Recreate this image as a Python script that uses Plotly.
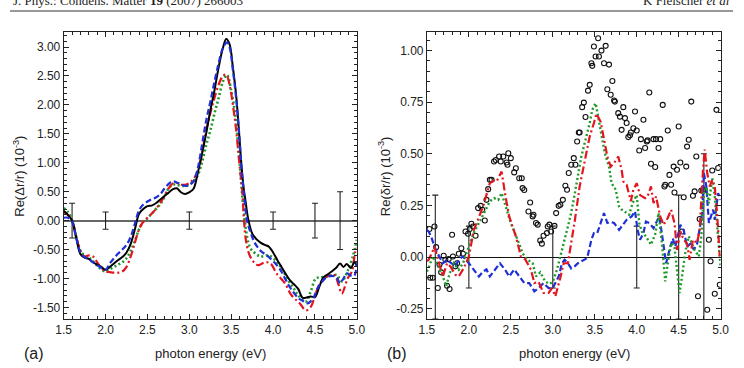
import plotly.graph_objects as go

# ---------------- panel (a) data ----------------
a_black_x = [1.50,1.55,1.60,1.65,1.70,1.75,1.80,1.85,1.90,1.95,2.00,2.05,2.10,2.15,2.20,2.25,2.30,2.35,2.40,2.45,2.50,2.55,2.60,2.65,2.70,2.75,2.80,2.85,2.90,2.95,3.00,3.05,3.10,3.15,3.20,3.25,3.30,3.35,3.40,3.44,3.48,3.52,3.56,3.60,3.62,3.65,3.67,3.70,3.75,3.80,3.85,3.90,3.95,4.00,4.05,4.10,4.15,4.20,4.25,4.30,4.35,4.40,4.45,4.50,4.55,4.60,4.65,4.70,4.75,4.80,4.84,4.88,4.93,4.97,5.00]
a_black_y = [0.17,0.10,0.00,-0.30,-0.58,-0.64,-0.66,-0.72,-0.76,-0.80,-0.85,-0.80,-0.74,-0.68,-0.63,-0.55,-0.40,-0.15,0.12,0.20,0.25,0.26,0.30,0.36,0.42,0.48,0.54,0.56,0.49,0.46,0.49,0.55,0.82,1.15,1.50,1.90,2.25,2.65,2.98,3.14,3.05,2.65,2.15,1.40,1.00,0.55,0.35,0.05,-0.22,-0.32,-0.38,-0.42,-0.45,-0.55,-0.68,-0.80,-0.92,-1.03,-1.10,-1.18,-1.33,-1.33,-1.31,-1.32,-1.15,-0.98,-0.93,-0.88,-0.82,-0.74,-0.80,-0.75,-0.82,-0.72,-0.78]

a_blue_x = [1.50,1.55,1.60,1.65,1.70,1.75,1.80,1.85,1.90,1.95,2.00,2.05,2.10,2.15,2.20,2.25,2.30,2.35,2.40,2.45,2.50,2.55,2.60,2.65,2.70,2.75,2.80,2.85,2.90,2.95,3.00,3.05,3.10,3.15,3.20,3.25,3.30,3.35,3.40,3.45,3.48,3.52,3.56,3.60,3.62,3.65,3.69,3.73,3.78,3.85,3.95,4.05,4.10,4.15,4.20,4.25,4.30,4.35,4.41,4.48,4.52,4.57,4.65,4.75,4.80,4.84,4.88,4.93,4.97,5.00]
a_blue_y = [0.05,0.05,-0.02,-0.30,-0.55,-0.63,-0.67,-0.72,-0.77,-0.82,-0.85,-0.74,-0.65,-0.57,-0.50,-0.42,-0.28,-0.05,0.18,0.28,0.33,0.37,0.40,0.45,0.55,0.63,0.68,0.66,0.63,0.60,0.62,0.68,0.90,1.30,1.72,2.05,2.40,2.72,2.98,3.08,3.00,2.60,2.10,1.40,0.95,0.50,0.00,-0.20,-0.38,-0.52,-0.63,-0.78,-0.88,-1.02,-1.15,-1.25,-1.34,-1.38,-1.43,-1.34,-1.20,-1.08,-0.97,-0.97,-1.08,-1.00,-0.91,-0.95,-0.95,-0.70]

a_green_x = [1.50,1.55,1.60,1.65,1.70,1.75,1.80,1.85,1.90,1.95,2.00,2.05,2.10,2.15,2.20,2.25,2.30,2.35,2.40,2.45,2.50,2.55,2.60,2.65,2.70,2.75,2.80,2.85,2.90,2.95,3.00,3.05,3.10,3.15,3.20,3.25,3.30,3.35,3.40,3.45,3.50,3.55,3.60,3.64,3.69,3.73,3.80,3.85,3.95,4.05,4.10,4.18,4.25,4.30,4.39,4.45,4.51,4.57,4.63,4.70,4.76,4.82,4.89,4.95,5.00]
a_green_y = [0.22,0.15,0.00,-0.28,-0.52,-0.60,-0.64,-0.70,-0.78,-0.84,-0.88,-0.84,-0.80,-0.76,-0.72,-0.65,-0.52,-0.35,-0.15,-0.02,0.04,0.12,0.20,0.28,0.40,0.55,0.62,0.62,0.60,0.60,0.62,0.68,0.78,1.00,1.30,1.55,1.85,2.12,2.40,2.52,2.25,1.80,1.00,0.30,-0.28,-0.48,-0.58,-0.62,-0.60,-0.72,-0.82,-1.03,-1.18,-1.29,-1.40,-1.22,-1.00,-0.98,-0.97,-0.95,-0.94,-1.05,-0.87,-0.63,-0.33]

a_red_x = [1.50,1.55,1.60,1.65,1.70,1.75,1.80,1.85,1.90,1.95,2.00,2.05,2.10,2.15,2.20,2.25,2.30,2.35,2.40,2.45,2.50,2.55,2.60,2.65,2.70,2.75,2.80,2.85,2.90,2.95,3.00,3.05,3.10,3.15,3.20,3.25,3.30,3.35,3.40,3.44,3.48,3.52,3.56,3.60,3.63,3.67,3.71,3.75,3.80,3.83,3.90,3.97,4.04,4.14,4.22,4.32,4.39,4.45,4.50,4.55,4.63,4.73,4.78,4.82,4.89,4.94,4.98,5.00]
a_red_y = [0.15,0.10,0.00,-0.28,-0.52,-0.62,-0.60,-0.62,-0.72,-0.82,-0.88,-0.89,-0.90,-0.90,-0.88,-0.80,-0.62,-0.38,-0.15,-0.02,0.05,0.12,0.20,0.30,0.42,0.55,0.64,0.65,0.62,0.62,0.65,0.72,0.85,1.15,1.55,1.85,2.12,2.35,2.50,2.52,2.35,2.00,1.55,0.95,0.55,-0.28,-0.56,-0.68,-0.76,-0.77,-0.72,-0.74,-0.91,-1.08,-1.29,-1.43,-1.55,-1.49,-1.30,-1.11,-0.97,-0.94,-1.10,-1.26,-1.00,-0.88,-0.55,-0.47]

err_x = [1.6, 2.0, 3.0, 4.0, 4.5, 4.8]
err_val = [0.3, 0.15, 0.15, 0.15, 0.3, 0.5]
err_zero = [0, 0, 0, 0, 0, 0]

# ---------------- panel (b) data ----------------
b_circ_x = [1.53,1.54,1.57,1.59,1.61,1.63,1.65,1.67,1.70,1.72,1.74,1.76,1.77,1.80,1.81,1.84,1.86,1.88,1.91,1.93,1.96,1.99,2.01,2.03,2.05,2.08,2.11,2.14,2.16,2.19,2.21,2.23,2.25,2.27,2.30,2.32,2.36,2.38,2.41,2.45,2.46,2.47,2.50,2.54,2.56,2.60,2.63,2.64,2.66,2.71,2.73,2.76,2.77,2.80,2.82,2.85,2.87,2.89,2.93,2.94,2.96,2.98,3.02,3.04,3.07,3.09,3.12,3.15,3.17,3.19,3.22,3.25,3.27,3.29,3.31,3.32,3.35,3.37,3.39,3.42,3.44,3.46,3.47,3.49,3.51,3.54,3.55,3.58,3.61,3.63,3.65,3.67,3.69,3.71,3.73,3.74,3.78,3.80,3.82,3.84,3.86,3.88,3.90,3.92,3.93,3.96,3.98,4.00,4.03,4.05,4.08,4.10,4.12,4.13,4.15,4.17,4.20,4.22,4.23,4.26,4.28,4.31,4.33,4.34,4.37,4.39,4.41,4.44,4.45,4.48,4.50,4.52,4.54,4.56,4.59,4.60,4.62,4.65,4.67,4.69,4.71,4.73,4.75,4.77,4.79,4.81,4.84,4.86,4.88,4.90,4.93,4.95,4.97,4.99]
b_circ_y = [0.136,-0.10,-0.10,0.148,0.048,-0.15,-0.037,-0.074,0.006,-0.013,-0.139,-0.01,-0.155,0.108,0.003,-0.045,-0.03,0.016,0.043,0.016,0.124,0.113,0.136,0.161,0.148,0.103,0.237,0.248,0.229,0.177,0.277,0.329,0.374,0.374,0.463,0.470,0.487,0.463,0.487,0.458,0.447,0.503,0.479,0.410,0.430,0.382,0.382,0.334,0.325,0.221,0.264,0.197,0.205,0.165,0.157,0.080,0.065,0.103,0.116,0.148,0.157,0.124,0.151,0.213,0.248,0.253,0.277,0.345,0.326,0.407,0.447,0.479,0.447,0.560,0.603,0.603,0.726,0.748,0.678,0.806,0.834,0.939,0.926,1.020,0.971,1.060,0.971,1.000,0.939,1.023,0.813,0.932,0.786,0.853,0.758,0.753,0.697,0.680,0.616,0.726,0.673,0.649,0.581,0.590,0.603,0.624,0.705,0.613,0.516,0.571,0.665,0.528,0.560,0.565,0.797,0.452,0.571,0.436,0.571,0.528,0.571,0.737,0.342,0.350,0.613,0.398,0.350,0.438,0.313,0.423,0.632,0.458,0.124,0.290,0.438,0.535,0.568,0.753,0.297,0.318,0.487,-0.190,0.184,0.322,0.322,0.326,-0.255,0.084,-0.020,0.419,-0.178,0.713,0.431,-0.134]

b_blue_x = [1.50,1.52,1.55,1.59,1.63,1.69,1.74,1.80,1.84,1.88,1.93,2.00,2.06,2.12,2.17,2.21,2.25,2.31,2.37,2.43,2.48,2.54,2.60,2.66,2.72,2.78,2.83,2.89,2.95,3.00,3.07,3.11,3.14,3.18,3.22,3.26,3.30,3.35,3.41,3.46,3.49,3.53,3.57,3.61,3.65,3.69,3.73,3.79,3.82,3.88,3.94,3.98,4.01,4.04,4.08,4.11,4.15,4.20,4.23,4.27,4.31,4.35,4.39,4.43,4.46,4.52,4.56,4.60,4.64,4.68,4.72,4.78,4.80,4.83,4.86,4.91,4.93,4.97,5.00]
b_blue_y = [0.13,0.124,0.10,0.05,0.016,-0.03,-0.013,-0.03,-0.045,-0.013,0.003,-0.03,-0.061,-0.094,-0.07,-0.06,-0.094,-0.06,-0.03,-0.06,-0.094,-0.06,-0.094,-0.126,-0.126,-0.166,-0.15,-0.126,-0.15,-0.15,-0.094,-0.03,-0.013,-0.03,-0.055,-0.045,-0.03,-0.02,-0.005,0.084,0.116,0.116,0.165,0.213,0.165,0.17,0.165,0.132,0.148,0.18,0.197,0.221,0.132,0.084,0.116,0.172,0.165,0.14,0.165,0.197,0.084,-0.03,0.035,0.09,0.05,0.156,0.13,0.05,0.065,0.035,0.065,0.213,0.407,0.342,0.165,0.23,0.18,0.31,0.277]

b_green_x = [1.50,1.52,1.57,1.62,1.69,1.73,1.77,1.82,1.88,1.93,2.00,2.06,2.14,2.20,2.25,2.30,2.35,2.39,2.44,2.50,2.58,2.64,2.69,2.76,2.80,2.85,2.91,2.96,3.00,3.05,3.09,3.13,3.17,3.21,3.25,3.30,3.34,3.39,3.44,3.47,3.51,3.54,3.58,3.62,3.67,3.70,3.75,3.79,3.82,3.86,3.91,3.95,4.00,4.03,4.06,4.11,4.17,4.22,4.26,4.30,4.34,4.37,4.41,4.45,4.48,4.51,4.54,4.58,4.62,4.65,4.69,4.74,4.77,4.80,4.83,4.86,4.90,4.93,4.96,5.00]
b_green_y = [-0.07,-0.053,0.003,-0.03,-0.094,-0.142,-0.08,-0.03,-0.061,-0.03,0.05,0.12,0.18,0.23,0.27,0.285,0.277,0.31,0.245,0.165,0.084,0.019,-0.01,-0.03,-0.094,-0.074,-0.118,-0.13,-0.12,-0.061,0.003,0.068,0.132,0.197,0.28,0.39,0.487,0.568,0.649,0.713,0.745,0.68,0.584,0.503,0.438,0.358,0.326,0.245,0.23,0.22,0.205,0.261,0.30,0.165,0.124,0.10,0.06,0.11,0.213,0.068,-0.118,-0.03,0.068,0.05,-0.06,-0.174,-0.094,0.027,0.10,0.068,0.035,0.003,0.10,0.31,0.34,0.26,0.382,0.293,0.132,-0.05]

b_red_x = [1.50,1.52,1.56,1.59,1.63,1.69,1.74,1.78,1.84,1.88,1.94,2.00,2.06,2.12,2.17,2.25,2.30,2.33,2.39,2.43,2.48,2.56,2.62,2.67,2.74,2.78,2.83,2.89,2.95,2.99,3.03,3.09,3.13,3.18,3.22,3.26,3.32,3.38,3.44,3.49,3.52,3.57,3.61,3.65,3.69,3.73,3.78,3.82,3.84,3.88,3.93,3.96,4.00,4.04,4.10,4.13,4.17,4.20,4.23,4.28,4.32,4.37,4.41,4.45,4.48,4.52,4.56,4.60,4.63,4.67,4.72,4.75,4.79,4.81,4.84,4.87,4.90,4.93,4.96,4.99]
b_red_y = [-0.02,-0.013,0.02,0.05,-0.01,-0.094,-0.03,-0.045,-0.086,-0.094,-0.053,0.003,0.132,0.189,0.245,0.358,0.37,0.366,0.414,0.31,0.197,0.10,0.003,-0.01,-0.061,-0.126,-0.12,-0.174,-0.174,-0.15,-0.19,-0.10,-0.03,-0.03,0.068,0.17,0.342,0.455,0.584,0.649,0.694,0.656,0.568,0.487,0.438,0.455,0.487,0.423,0.366,0.35,0.27,0.326,0.358,0.30,0.285,0.293,0.342,0.261,0.293,0.197,0.156,0.189,0.229,0.165,0.035,0.124,0.084,0.065,-0.013,0.084,0.068,0.132,0.423,0.52,0.407,0.342,0.374,0.342,0.197,0.003]

# tick labels
a_yticks = [-1.5, -1.0, -0.5, 0.0, 0.5, 1.0, 1.5, 2.0, 2.5, 3.0]
a_ytext = ["-1.50", "-1.00", "-0.50", "0.00", "0.50", "1.00", "1.50", "2.00", "2.50", "3.00"]
b_yticks = [-0.25, 0.0, 0.25, 0.5, 0.75, 1.0]
b_ytext = ["-0.25", "0.00", "0.25", "0.50", "0.75", "1.00"]
xticks = [1.5, 2.0, 2.5, 3.0, 3.5, 4.0, 4.5, 5.0]
xtext = ["1.5", "2.0", "2.5", "3.0", "3.5", "4.0", "4.5", "5.0"]

W, H = 744, 368
FONT = "Liberation Sans, Arial, sans-serif"
BLUE = "#1f2fd6"
GREEN = "#1f9a2a"
RED = "#e3161f"

fig = go.Figure()

def err_trace(xa, ya):
    return go.Scatter(x=err_x, y=err_zero, xaxis=xa, yaxis=ya, mode="markers",
                      marker=dict(size=1, color="rgba(0,0,0,0)"),
                      error_y=dict(type="data", array=err_val, visible=True,
                                   color="#222", thickness=1.1, width=3),
                      showlegend=False, hoverinfo="skip")

# panel (a)
fig.add_trace(err_trace("x", "y"))
fig.add_trace(go.Scatter(x=a_green_x, y=a_green_y, mode="lines", line=dict(color=GREEN, width=2.6, dash="2px,2.5px", shape="spline"), showlegend=False))
fig.add_trace(go.Scatter(x=a_red_x, y=a_red_y, mode="lines", line=dict(color=RED, width=2.2, dash="8px,3px,2px,3px", shape="spline"), showlegend=False))
fig.add_trace(go.Scatter(x=a_black_x, y=a_black_y, mode="lines", line=dict(color="#000", width=2.0, shape="spline"), showlegend=False))
fig.add_trace(go.Scatter(x=a_blue_x, y=a_blue_y, mode="lines", line=dict(color=BLUE, width=2.2, dash="6px,3px", shape="spline"), showlegend=False))

# panel (b)
fig.add_trace(err_trace("x2", "y2"))
fig.add_trace(go.Scatter(x=b_circ_x, y=b_circ_y, xaxis="x2", yaxis="y2", mode="markers",
                         marker=dict(symbol="circle-open", size=5, color="#111", line=dict(width=1.1)), showlegend=False))
fig.add_trace(go.Scatter(x=b_blue_x, y=b_blue_y, xaxis="x2", yaxis="y2", mode="lines", line=dict(color=BLUE, width=2.2, dash="6px,3px"), showlegend=False))
fig.add_trace(go.Scatter(x=b_green_x, y=b_green_y, xaxis="x2", yaxis="y2", mode="lines", line=dict(color=GREEN, width=2.4, dash="2px,2.5px"), showlegend=False))
fig.add_trace(go.Scatter(x=b_red_x, y=b_red_y, xaxis="x2", yaxis="y2", mode="lines", line=dict(color=RED, width=2.2, dash="8px,3px,2px,3px"), showlegend=False))

def xaxis(domain, anchor):
    return dict(domain=domain, anchor=anchor, range=[1.5, 5.0], tickvals=xticks, ticktext=xtext,
                ticks="inside", ticklen=5, tickwidth=1, tickcolor="#222",
                minor=dict(ticks="inside", ticklen=3, dtick=0.1, tick0=1.5, tickcolor="#222", showgrid=False),
                showline=True, linecolor="#222", linewidth=1, mirror="allticks",
                showgrid=False, zeroline=False, tickfont=dict(family=FONT, size=12, color="#222"))

def yaxis(domain, anchor, rng, tv, tt, minor_dt, zc, zw):
    return dict(domain=domain, anchor=anchor, range=rng, tickvals=tv, ticktext=tt,
                ticks="inside", ticklen=5, tickwidth=1, tickcolor="#222",
                minor=dict(ticks="inside", ticklen=3, dtick=minor_dt, tick0=0, tickcolor="#222", showgrid=False),
                showline=True, linecolor="#222", linewidth=1, mirror="allticks",
                showgrid=False, zeroline=True, zerolinecolor=zc, zerolinewidth=zw,
                tickfont=dict(family=FONT, size=12, color="#222"))

ydom = [1 - 319 / H, 1 - 32 / H]
fig.update_layout(
    width=W, height=H, margin=dict(l=0, r=0, t=0, b=0),
    paper_bgcolor="white", plot_bgcolor="white",
    xaxis=xaxis([57 / W, 357 / W], "y"),
    yaxis=yaxis(ydom, "x", [-1.70, 3.26], a_yticks, a_ytext, 0.1, "#666", 2),
    xaxis2=xaxis([428.7 / W, 729.3 / W], "y2"),
    yaxis2=yaxis(ydom, "x2", [-0.30, 1.09], b_yticks, b_ytext, 0.05, "#111", 1.2),
)

ann = [
    dict(text="photon energy (eV)", x=207 / W, y=1 - 353 / H, size=13),
    dict(text="photon energy (eV)", x=580 / W, y=1 - 353 / H, size=13),
    dict(text="(a)", x=27 / W, y=1 - 353 / H, size=16),
    dict(text="(b)", x=398 / W, y=1 - 353 / H, size=16),
]
for a in ann:
    fig.add_annotation(text=a["text"], x=a["x"], y=a["y"], xref="paper", yref="paper",
                       xanchor="center", yanchor="middle", showarrow=False,
                       font=dict(family=FONT, size=a["size"], color="#222"))
for txt, xx in [("Re(Δr/r) (10<sup>-3</sup>)", 11), ("Re(δr/r) (10<sup>-3</sup>)", 385)]:
    fig.add_annotation(text=txt, x=xx / W, y=1 - 176 / H, xref="paper", yref="paper",
                       xanchor="center", yanchor="middle", textangle=-90, showarrow=False,
                       font=dict(family=FONT, size=13, color="#222"))

# page header (cropped at top)
fig.add_annotation(text="J. Phys.: Condens. Matter <b>19</b> (2007) 266003", x=3 / W, y=1 - 10 / H,
                   xref="paper", yref="paper", xanchor="left", yanchor="bottom", showarrow=False,
                   font=dict(family="Liberation Serif, Times New Roman, serif", size=13, color="#222"))
fig.add_annotation(text="K Fleischer <i>et al</i>", x=741 / W, y=1 - 10 / H,
                   xref="paper", yref="paper", xanchor="right", yanchor="bottom", showarrow=False,
                   font=dict(family="Liberation Serif, Times New Roman, serif", size=13, color="#222"))
fig.add_shape(type="line", xref="paper", yref="paper", x0=2 / W, x1=742 / W, y0=1 - 11 / H, y1=1 - 11 / H,
              line=dict(color="#333", width=1))

fig.write_html("out.html")
